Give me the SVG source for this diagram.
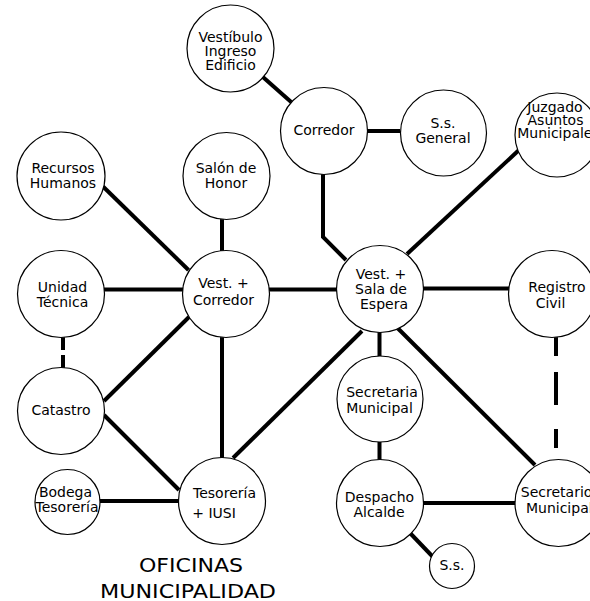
<svg xmlns="http://www.w3.org/2000/svg" width="590" height="601" viewBox="0 0 590 601">
<style>
.n{fill:#fff;stroke:#000;stroke-width:1.2}
.t{font-family:"DejaVu Sans",Verdana,sans-serif;font-size:14px;fill:#000;text-anchor:middle}
.ti{font-family:"DejaVu Sans",Verdana,sans-serif;font-size:20px;fill:#000;text-anchor:middle}
.c{stroke:#000;stroke-width:4;fill:none}
</style>
<rect width="590" height="601" fill="#fff"/>
<g id="connectors">
<line class="c" x1="262.6" y1="76.8" x2="291.4" y2="102.2"/>
<line class="c" x1="367" y1="131" x2="400" y2="131"/>
<polyline class="c" points="323,174 323,237 346,260"/>
<line class="c" x1="407" y1="254" x2="519" y2="150"/>
<line class="c" x1="423" y1="288.5" x2="509" y2="288.5"/>
<line class="c" x1="269" y1="289.5" x2="337" y2="289.5"/>
<line class="c" x1="104" y1="289.5" x2="183" y2="289.5"/>
<line class="c" x1="103" y1="186.5" x2="188.5" y2="270"/>
<line class="c" x1="222" y1="219" x2="222" y2="251"/>
<line class="c" x1="63" y1="337" x2="63" y2="350"/>
<line class="c" x1="63" y1="355" x2="63" y2="368"/>
<line class="c" x1="104" y1="401" x2="189" y2="317"/>
<line class="c" x1="104" y1="415" x2="179" y2="490"/>
<line class="c" x1="222" y1="337" x2="222" y2="458"/>
<line class="c" x1="233" y1="458" x2="362" y2="331"/>
<line class="c" x1="379.5" y1="332" x2="379.5" y2="357"/>
<line class="c" x1="398" y1="328.5" x2="535" y2="465"/>
<line class="c" x1="379.5" y1="442" x2="379.5" y2="460"/>
<line class="c" x1="423" y1="503" x2="516" y2="503"/>
<line class="c" x1="410" y1="533" x2="433" y2="557"/>
<line class="c" x1="99" y1="501" x2="179" y2="501"/>
<line class="c" x1="556" y1="337" x2="556" y2="356"/>
<line class="c" x1="556" y1="372" x2="556" y2="405"/>
<line class="c" x1="556" y1="429" x2="556" y2="448"/>
</g>
<g id="vestibulo"><circle class="n" cx="230.5" cy="48.5" r="43.5"/><text class="t" x="230.5" y="42">Vestíbulo</text><text class="t" x="230.5" y="56">Ingreso</text><text class="t" x="230.5" y="70">Edificio</text></g>
<g id="corredor"><circle class="n" cx="324" cy="131" r="43.5"/><text class="t" x="324" y="135">Corredor</text></g>
<g id="ss-general"><circle class="n" cx="443.5" cy="133" r="43"/><text class="t" x="443" y="128">S.s.</text><text class="t" x="443" y="143">General</text></g>
<g id="juzgado"><circle class="n" cx="557" cy="135" r="42"/><text class="t" x="555" y="112">Juzgado</text><text class="t" x="555.5" y="125">Asuntos</text><text class="t" x="558.5" y="138">Municipales</text></g>
<g id="recursos"><circle class="n" cx="61" cy="176" r="44"/><text class="t" x="63" y="173">Recursos</text><text class="t" x="63" y="188">Humanos</text></g>
<g id="salon"><circle class="n" cx="226.5" cy="176" r="43.5"/><text class="t" x="226" y="173">Salón de</text><text class="t" x="226" y="188">Honor</text></g>
<g id="unidad"><circle class="n" cx="61" cy="294" r="43.5"/><text class="t" x="62.5" y="292">Unidad</text><text class="t" x="62.5" y="307">Técnica</text></g>
<g id="vest-corredor"><circle class="n" cx="226" cy="294" r="43.5"/><text class="t" x="223.5" y="288">Vest. +</text><text class="t" x="223.5" y="305">Corredor</text></g>
<g id="vest-sala"><circle class="n" cx="380" cy="289" r="43.5"/><text class="t" x="381" y="279">Vest. +</text><text class="t" x="381" y="294">Sala de</text><text class="t" x="384" y="309">Espera</text></g>
<g id="registro"><circle class="n" cx="552" cy="294" r="43.5"/><text class="t" x="557" y="292">Registro</text><text class="t" x="550.5" y="308">Civil</text></g>
<g id="catastro"><circle class="n" cx="61" cy="411" r="43.5"/><text class="t" x="61" y="415">Catastro</text></g>
<g id="secretaria"><circle class="n" cx="380" cy="399" r="43"/><text class="t" x="382" y="397">Secretaria</text><text class="t" x="379.5" y="413">Municipal</text></g>
<g id="bodega"><circle class="n" cx="67.5" cy="502" r="32.5"/><text class="t" x="65.5" y="497">Bodega</text><text class="t" x="67" y="512">Tesorería</text></g>
<g id="tesoreria"><circle class="n" cx="222" cy="501" r="43.5"/><text class="t" x="224.5" y="498">Tesorería</text><text class="t" x="214" y="518">+ IUSI</text></g>
<g id="despacho"><circle class="n" cx="380" cy="503" r="43.5"/><text class="t" x="379.5" y="502">Despacho</text><text class="t" x="379" y="517">Alcalde</text></g>
<g id="secretario"><circle class="n" cx="558.5" cy="503" r="43.5"/><text class="t" x="556.6" y="497">Secretario</text><text class="t" x="559.3" y="513">Municipal</text></g>
<g id="ss"><circle class="n" cx="452" cy="566" r="22.5"/><text class="t" x="452" y="570">S.s.</text></g>
<g id="title"><text class="ti" x="191" y="572" textLength="104" lengthAdjust="spacingAndGlyphs">OFICINAS</text><text class="ti" x="188" y="598" textLength="176" lengthAdjust="spacingAndGlyphs">MUNICIPALIDAD</text></g>
</svg>
